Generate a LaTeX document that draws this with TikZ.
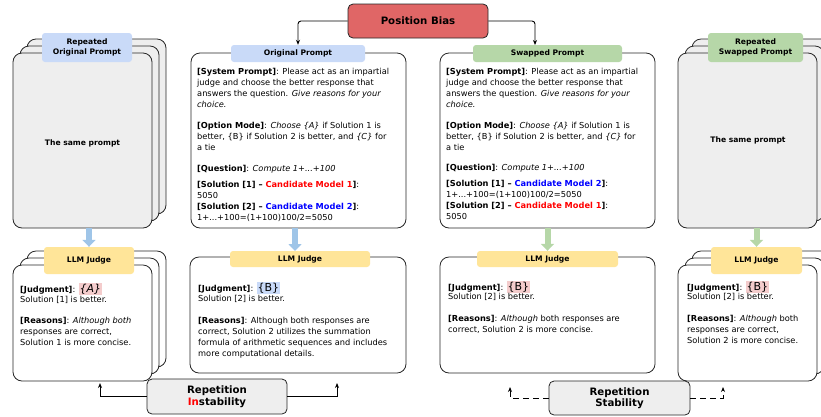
\documentclass[tikz,border=0pt]{standalone}
\usepackage{fontspec}
\setmainfont{DejaVu Sans}
\usetikzlibrary{arrows.meta,calc}
\definecolor{pbred}{HTML}{E06666}
\definecolor{lblue}{HTML}{C9DAF8}
\definecolor{lgreen}{HTML}{B6D7A8}
\definecolor{lyellow}{HTML}{FFE599}
\definecolor{lgray}{HTML}{EEEEEE}
\definecolor{hpink}{HTML}{F4CCCC}
\definecolor{arblue}{HTML}{9FC5E8}
\definecolor{argreen}{HTML}{B6D7A8}
\definecolor{cred}{HTML}{FF0000}
\definecolor{cblue}{HTML}{0000FF}
\newcommand{\hlbox}[2]{{\setlength{\fboxsep}{0.8pt}\colorbox{#1}{\fontsize{11}{11}\selectfont #2}}}
\begin{document}
\begin{tikzpicture}[x=1pt,y=-1pt,
  card/.style={draw=black!85, line width=0.8pt, rounded corners=9pt, fill=white, inner sep=0pt},
  graycard/.style={card, fill=lgray},
  tag/.style={rounded corners=3pt, inner sep=0pt, align=center, font=\bfseries\fontsize{7.6}{10.5}\selectfont},
  body/.style={anchor=north west, align=left, inner sep=0pt, font=\fontsize{8.25}{11}\selectfont},
  fatblue/.style={line width=6pt, draw=arblue, -{Triangle[width=13pt,length=7pt]}},
  fatgreen/.style={line width=6pt, draw=argreen, -{Triangle[width=13pt,length=7pt]}},
  conn/.style={line width=0.9pt, rounded corners=3pt, -{Stealth[length=5pt,width=4pt]}},
  big/.style={draw=black!85, line width=0.8pt, rounded corners=5pt, inner sep=0pt, align=center, font=\bfseries\fontsize{10.2}{11.5}\selectfont}
]
\useasboundingbox (0,0) rectangle (821,416);

% ---------- Position Bias ----------
\node[big, fill=pbred, minimum width=140pt, minimum height=34pt] (pb) at (418,21) {Position Bias};

% ---------- Left stack (repeated original prompt) ----------
\node[graycard, minimum width=139pt, minimum height=175pt] (lp3) at (96.5,126.5) {};
\node[graycard, minimum width=139pt, minimum height=175pt] (lp2) at (89.5,133.5) {};
\node[graycard, minimum width=139pt, minimum height=175pt] (lp1) at (82.5,140.5) {};
\node[tag, fill=lblue, minimum width=90pt, minimum height=29pt] (lpt) at (87,47.5) {Repeated\\Original Prompt};
\node[inner sep=0pt, font=\bfseries\fontsize{7.6}{10}\selectfont] (lps) at (82.5,143) {The same prompt};

% ---------- Right stack (repeated swapped prompt) ----------
\node[graycard, minimum width=139pt, minimum height=175pt] (rp3) at (761.5,126.5) {};
\node[graycard, minimum width=139pt, minimum height=175pt] (rp2) at (754.5,133.5) {};
\node[graycard, minimum width=139pt, minimum height=175pt] (rp1) at (747.5,140.5) {};
\node[tag, fill=lgreen, minimum width=95pt, minimum height=29pt] (rpt) at (755.5,47.5) {Repeated\\Swapped Prompt};
\node[inner sep=0pt, font=\bfseries\fontsize{7.6}{10}\selectfont] (rps) at (748,140) {The same prompt};

% ---------- Original prompt ----------
\node[card, minimum width=215pt, minimum height=175pt] (op) at (298.5,140.5) {};
\node[tag, fill=lblue, minimum width=134pt, minimum height=17pt] (opt) at (298,53.5) {Original Prompt};
\node[body] (op1) at (197,68.5) {\textbf{[System Prompt]}: Please act as an impartial\\judge and choose the better response that\\answers the question. \textit{Give reasons for your}\\\textit{choice.}};
\node[body] (op2) at (197,122.5) {\textbf{[Option Mode]}: \textit{Choose \{A\}} if Solution 1 is\\better, \{B\} if Solution 2 is better, and \textit{\{C\}} for\\a tie};
\node[body] (op3) at (197,165.5) {\textbf{[Question]}: \textit{Compute 1+...+100}};
\node[body] (op4) at (197,181.5) {\textbf{[Solution [1] -- \textcolor{cred}{Candidate Model 1}]}:\\5050\\\textbf{[Solution [2] -- \textcolor{cblue}{Candidate Model 2}]}:\\1+...+100=(1+100)100/2=5050};

% ---------- Swapped prompt ----------
\node[card, minimum width=215pt, minimum height=175pt] (sp) at (547.5,140.5) {};
\node[tag, fill=lgreen, minimum width=149pt, minimum height=17pt] (spt) at (547.5,53.5) {Swapped Prompt};
\node[body] (sp1) at (446,68.5) {\textbf{[System Prompt]}: Please act as an impartial\\judge and choose the better response that\\answers the question. \textit{Give reasons for your}\\\textit{choice.}};
\node[body] (sp2) at (446,122.5) {\textbf{[Option Mode]}: \textit{Choose \{A\}} if Solution 1 is\\better, \{B\} if Solution 2 is better, and \textit{\{C\}} for\\a tie};
\node[body] (sp3) at (446,164.5) {\textbf{[Question]}: \textit{Compute 1+...+100}};
\node[body] (sp4) at (446,180.5) {\textbf{[Solution [1] -- \textcolor{cblue}{Candidate Model 2}]}:\\1+...+100=(1+100)100/2=5050\\\textbf{[Solution [2] -- \textcolor{cred}{Candidate Model 1}]}:\\5050};

% ---------- Judge boxes ----------
% left stack
\node[card, minimum width=139pt, minimum height=116pt] (lj3) at (96.5,309) {};
\node[card, minimum width=139pt, minimum height=116pt] (lj2) at (89.5,316) {};
\node[card, minimum width=139pt, minimum height=116pt] (lj1) at (82.5,323) {};
\node[tag, fill=lyellow, minimum width=90pt, minimum height=27pt] (ljt) at (89,260.5) {LLM Judge};
\node[body, anchor=base west] (lja) at (20,292) {\textbf{[Judgment]}: \hlbox{hpink}{\textit{\{A\}}}};
\node[body] (ljb) at (20,296.5) {Solution [1] is better.};
\node[body] (ljc) at (20,317.5) {\textbf{[Reasons]}: \textit{Although both}\\responses are correct,\\Solution 1 is more concise.};

% original judge
\node[card, minimum width=216pt, minimum height=116pt] (oj) at (298,315) {};
\node[tag, fill=lyellow, minimum width=140pt, minimum height=16pt] (ojt) at (300,259) {LLM Judge};
\node[body, anchor=base west] (oja) at (198,291) {\textbf{[Judgment]}: \hlbox{lblue}{\{B\}}};
\node[body] (ojb) at (198,295.5) {Solution [2] is better.};
\node[body] (ojc) at (198,317.5) {\textbf{[Reasons]}: Although both responses are\\correct, Solution 2 utilizes the summation\\formula of arithmetic sequences and includes\\more computational details.};

% swapped judge
\node[card, minimum width=215pt, minimum height=116pt] (sj) at (547.5,315) {};
\node[tag, fill=lyellow, minimum width=141pt, minimum height=16pt] (sjt) at (547.5,259) {LLM Judge};
\node[body, anchor=base west] (sja) at (448,290) {\textbf{[Judgment]}: \hlbox{hpink}{\{B\}}};
\node[body] (sjb) at (448,293.5) {Solution [2] is better.};
\node[body] (sjc) at (448,315.5) {\textbf{[Reasons]}: \textit{Although} both responses are\\correct, Solution 2 is more concise.};

% right stack
\node[card, minimum width=139pt, minimum height=116pt] (rj3) at (761.5,309) {};
\node[card, minimum width=139pt, minimum height=116pt] (rj2) at (754.5,316) {};
\node[card, minimum width=139pt, minimum height=116pt] (rj1) at (747.5,323) {};
\node[tag, fill=lyellow, minimum width=91pt, minimum height=27pt] (rjt) at (756.5,260.5) {LLM Judge};
\node[body, anchor=base west] (rja) at (687,290) {\textbf{[Judgment]}: \hlbox{hpink}{\{B\}}};
\node[body] (rjb) at (687,293.5) {Solution [2] is better.};
\node[body] (rjc) at (687,315.5) {\textbf{[Reasons]}: \textit{Although} both\\responses are correct,\\Solution 2 is more concise.};

% ---------- Bottom boxes ----------
\node[big, fill=lgray, minimum width=140pt, minimum height=35pt] (ri) at (217,396.5) {Repetition\\\textcolor{cred}{In}stability};
\node[big, fill=lgray, minimum width=141pt, minimum height=34pt] (rs) at (619.5,398) {Repetition\\Stability};

% ---------- Connectors ----------
\coordinate (swin) at (535,45);
\draw[conn] (pb.west) -| (opt.north);
\draw[conn] (pb.east) -| (swin);

\draw[fatblue] (lp1.south -| ljt.north) -- (ljt.north);
\draw[fatblue] (op.south -| 295,0) -- (295,251);
\draw[fatgreen] (sp.south) -- (sjt.north);
\draw[fatgreen] (rp1.south -| rjt.north) -- (rjt.north);

\coordinate (rila) at (100,383);
\coordinate (rira) at (337,383);
\coordinate (rsla) at (510,387);
\coordinate (rsra) at (723,387);
\draw[conn, rounded corners=0pt] (ri.west) -| (rila);
\draw[conn, rounded corners=0pt] (ri.east) -| (rira);
\draw[conn, rounded corners=0pt, dash pattern=on 6pt off 4pt] (rs.west) -| (rsla);
\draw[conn, rounded corners=0pt, dash pattern=on 6pt off 4pt] (rs.east) -| (rsra);
\end{tikzpicture}
\end{document}
